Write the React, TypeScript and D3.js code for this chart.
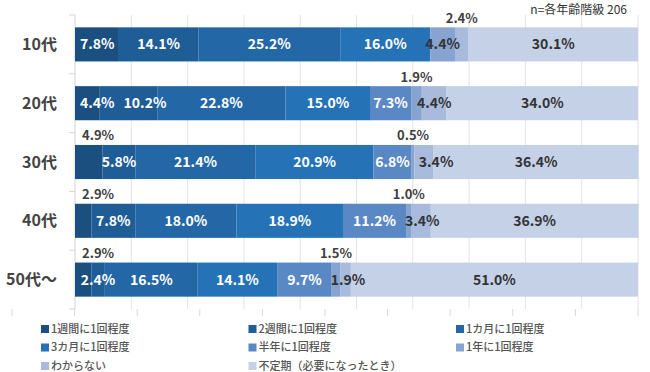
import React, { useEffect, useRef } from "react";
import * as d3 from "d3";

const categories = ["10代", "20代", "30代", "40代", "50代～"];
const seriesNames = [
  "1週間に1回程度",
  "2週間に1回程度",
  "1カ月に1回程度",
  "3カ月に1回程度",
  "半年に1回程度",
  "1年に1回程度",
  "わからない",
  "不定期（必要になったとき）",
];
const week1 = [7.8, 4.4, 4.9, 2.9, 2.9];
const week2 = [14.1, 10.2, 5.8, 7.8, 2.4];
const month1 = [25.2, 22.8, 21.4, 18.0, 16.5];
const month3 = [16.0, 15.0, 20.9, 18.9, 14.1];
const halfYear = [0, 7.3, 6.8, 11.2, 9.7];
const year1 = [4.4, 1.9, 0.5, 1.0, 1.5];
const unknown = [2.4, 4.4, 3.4, 3.4, 1.9];
const irregular = [30.1, 34.0, 36.4, 36.9, 51.0];
const seriesValues = [week1, week2, month1, month3, halfYear, year1, unknown, irregular];

// [category index, series index] of labels drawn above the bar
const aboveLabels = [
  [0, 6],
  [1, 5],
  [2, 0],
  [2, 5],
  [3, 0],
  [3, 5],
  [4, 0],
  [4, 5],
];

const colors = ["#1b4f80", "#1f5d96", "#2467a6", "#2573b6", "#5a88c4", "#87a3cf", "#a8bbdc", "#c5d1e7"];

const width = 650;
const height = 372;
const margin = { top: 15, right: 12, bottom: 65, left: 75 };
const font = "'Noto Sans CJK JP', 'Noto Sans', sans-serif";

const App = () => {
  const ref = useRef<SVGSVGElement>(null);

  useEffect(() => {
    const svg = d3.select(ref.current);
    svg.selectAll("*").remove();

    const rows = categories.map((c, i) => {
      const r: any = { cat: c };
      seriesNames.forEach((s, j) => (r[s] = seriesValues[j][i]));
      return r;
    });
    const stacked = d3.stack().keys(seriesNames)(rows);

    const x = d3.scaleLinear().domain([0, 100]).range([margin.left, width - margin.right]);
    const y = d3
      .scaleBand()
      .domain(categories)
      .range([margin.top, height - margin.bottom + 2])
      .paddingInner(0.42)
      .paddingOuter(0.21);
    const bottom = height - margin.bottom + 2;

    // grid
    svg
      .append("g")
      .selectAll("line")
      .data(x.ticks(10).slice(1))
      .enter()
      .append("line")
      .attr("x1", (d) => x(d))
      .attr("x2", (d) => x(d))
      .attr("y1", margin.top)
      .attr("y2", bottom)
      .attr("stroke", "#e3e3e3");

    // left axis
    const yAxis = svg.append("g");
    yAxis
      .append("line")
      .attr("x1", x(0))
      .attr("x2", x(0))
      .attr("y1", margin.top)
      .attr("y2", bottom)
      .attr("stroke", "#d4d4d4");
    const bounds = categories.map((c) => y(c)! - (y.step() * y.paddingInner()) / 2).concat([bottom]);
    yAxis
      .selectAll(".tk")
      .data(bounds)
      .enter()
      .append("line")
      .attr("x1", x(0) - 6)
      .attr("x2", x(0))
      .attr("y1", (d) => d)
      .attr("y2", (d) => d)
      .attr("stroke", "#d4d4d4");
    yAxis
      .selectAll("text")
      .data(categories)
      .enter()
      .append("text")
      .attr("x", 57)
      .attr("y", (d) => y(d)! + y.bandwidth() / 2)
      .attr("dy", "0.35em")
      .attr("text-anchor", "end")
      .attr("font-family", font)
      .attr("font-weight", "bold")
      .attr("font-size", 16)
      .attr("fill", "#444")
      .text((d) => d);

    // bottom ticks
    const xb = d3.scaleLinear().domain([0, 10]).range([12, width - margin.right]);
    svg
      .append("g")
      .selectAll("line")
      .data(d3.range(0, 11))
      .enter()
      .append("line")
      .attr("x1", (d) => xb(d))
      .attr("x2", (d) => xb(d))
      .attr("y1", bottom)
      .attr("y2", bottom + 7)
      .attr("stroke", "#d9d9d9");

    // bars
    const bars = svg.append("g");
    stacked.forEach((s, j) => {
      bars
        .selectAll(".s" + j)
        .data(s)
        .enter()
        .append("rect")
        .attr("x", (d) => x(d[0]))
        .attr("y", (d) => y(d.data.cat as string)!)
        .attr("width", (d) => Math.max(0, x(d[1]) - x(d[0])))
        .attr("height", y.bandwidth())
        .attr("fill", colors[j]);
    });

    // labels
    const labels = svg.append("g").attr("font-family", font).attr("font-weight", "bold");
    categories.forEach((c, i) => {
      let prevRight = -Infinity;
      const cy = y(c)! + y.bandwidth() / 2;
      stacked.forEach((s, j) => {
        const v = seriesValues[j][i];
        if (!v) return;
        const seg = s[i];
        const center = (x(seg[0]) + x(seg[1])) / 2;
        const above = aboveLabels.some((a) => a[0] === i && a[1] === j);
        const t = labels
          .append("text")
          .attr("font-size", above ? 13 : 14)
          .attr("dy", "0.35em")
          .attr("fill", above ? "#404040" : j <= 4 ? "#fff" : "#333")
          .text(v.toFixed(1) + "%");
        const w = (t.node() as SVGTextElement).getComputedTextLength();
        if (above) {
          const left = Math.max(center - w / 2, x(0) + 7);
          t.attr("x", left).attr("y", y(c)! - 9);
        } else {
          let left = center - w / 2;
          left = Math.max(left, x(0) + 5, prevRight + 9);
          prevRight = left + w;
          t.attr("x", left).attr("y", cy);
        }
      });
    });

    // legend
    const legend = svg.append("g").attr("font-family", font).attr("font-size", 11);
    seriesNames.forEach((s, i) => {
      const lx = 40 + (i % 3) * 207.5;
      const ly = 329 + Math.floor(i / 3) * 18.5;
      legend
        .append("rect")
        .attr("x", lx + 1)
        .attr("y", ly - 4)
        .attr("width", 8)
        .attr("height", 8)
        .attr("fill", colors[i]);
      legend
        .append("text")
        .attr("x", lx + 11)
        .attr("y", ly)
        .attr("dy", "0.35em")
        .attr("font-weight", 500)
        .attr("fill", "#555")
        .text(s);
    });

    svg
      .append("text")
      .attr("x", 627)
      .attr("y", 10)
      .attr("dy", "0.35em")
      .attr("text-anchor", "end")
      .attr("font-family", font)
      .attr("font-size", 12)
      .attr("fill", "#333")
      .text("n=各年齢階級 206");
  }, []);

  return (
    <svg
      ref={ref}
      width={width}
      height={height}
      style={{ position: "absolute", left: 0, top: 0, background: "#fff" }}
    />
  );
};

export default App;
